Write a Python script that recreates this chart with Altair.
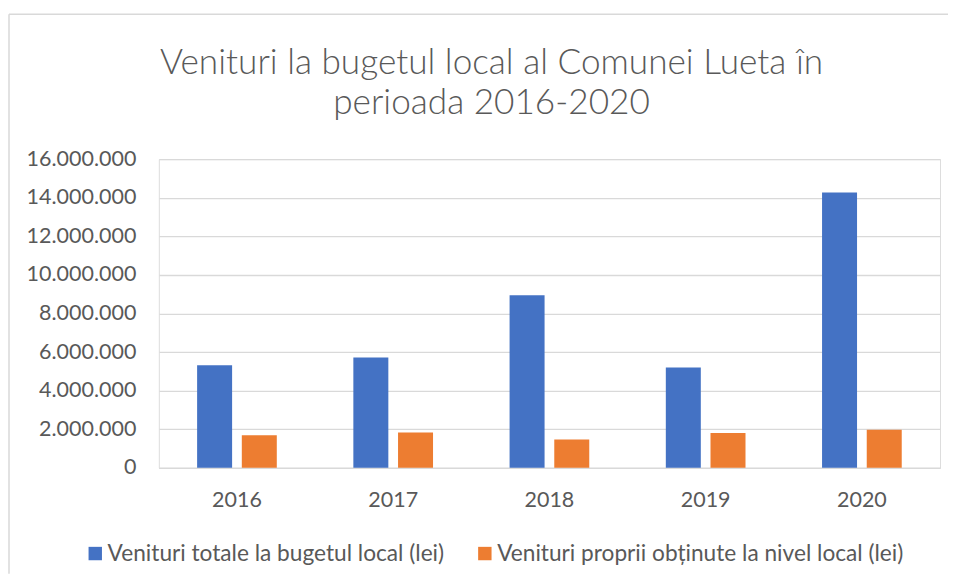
import altair as alt
import pandas as pd

years = ["2016", "2017", "2018", "2019", "2020"]
venituri_totale = [5320000, 5720000, 8950000, 5200000, 14270000]
venituri_proprii = [1690000, 1830000, 1470000, 1800000, 1970000]
series_names = ["Venituri totale la bugetul local (lei)",
                "Venituri proprii obținute la nivel local (lei)"]
series_colors = ["#4472C4", "#ED7D31"]
y_ticks = [0, 2000000, 4000000, 6000000, 8000000, 10000000, 12000000, 14000000, 16000000]
title_lines = ["Venituri la bugetul local al Comunei Lueta în", "perioada 2016-2020"]

rows = []
for i, y in enumerate(years):
    rows.append({"an": y, "serie": series_names[0], "valoare": venituri_totale[i]})
    rows.append({"an": y, "serie": series_names[1], "valoare": venituri_proprii[i]})
df = pd.DataFrame(rows)
one = pd.DataFrame({"k": [0]})

FONT = "Lato"
TXT = "#595959"
GRID = "#d9d9d9"

bars = alt.Chart(df).mark_bar().encode(
    x=alt.X("an:N", sort=years, title=None,
            scale=alt.Scale(paddingInner=0.49, paddingOuter=0.245),
            axis=alt.Axis(labelAngle=0, labelFontSize=21.5, labelColor=TXT, labelFont=FONT,
                          labelPadding=22, ticks=False, domain=True, domainColor=GRID,
                          domainWidth=1.3, grid=False)),
    xOffset=alt.XOffset("serie:N", sort=series_names,
                        scale=alt.Scale(paddingInner=0.217, paddingOuter=0)),
    y=alt.Y("valoare:Q", title=None,
            scale=alt.Scale(domain=[0, 16000000], nice=False),
            axis=alt.Axis(values=y_ticks, format=",d", labelFontSize=21.5, labelColor=TXT,
                          labelFont=FONT, labelPadding=23, ticks=False, domain=False,
                          grid=True, gridColor=GRID, gridWidth=1.3)),
    color=alt.Color("serie:N", sort=series_names,
                    scale=alt.Scale(domain=series_names, range=series_colors),
                    legend=alt.Legend(title=None, orient="none", direction="horizontal",
                                      legendX=-75, legendY=383,
                                      symbolType="square", symbolSize=180,
                                      symbolStrokeWidth=0, labelFontSize=22.7,
                                      labelColor=TXT, labelFont=FONT, labelOffset=1,
                                      columnPadding=29, labelLimit=600)),
)

frame_top = alt.Chart(one).mark_rule(color="#d9d9d9", strokeWidth=1.5).encode(
    x=alt.value(-150), x2=alt.value(790), y=alt.value(-145))
frame_left = alt.Chart(one).mark_rule(color="#d9d9d9", strokeWidth=1.5).encode(
    x=alt.value(-150), y=alt.value(-145), y2=alt.value(415))

chart = alt.layer(frame_top, frame_left, bars).properties(
    width=782, height=309,
    padding={"left": 0, "top": 5, "right": 0, "bottom": 0},
    title=alt.TitleParams(text=title_lines, fontSize=35.2, font=FONT, color=TXT,
                          fontWeight=300, lineHeight=40.5, anchor="middle",
                          frame="group", dx=-58, offset=-108),
).configure_view(strokeWidth=0, stroke="transparent").configure(
    locale={"number": {"decimal": ",", "thousands": ".", "grouping": [3],
                       "currency": ["", " lei"]}}
)

chart.save("out.html", embed_options={"renderer": "svg", "actions": False})
